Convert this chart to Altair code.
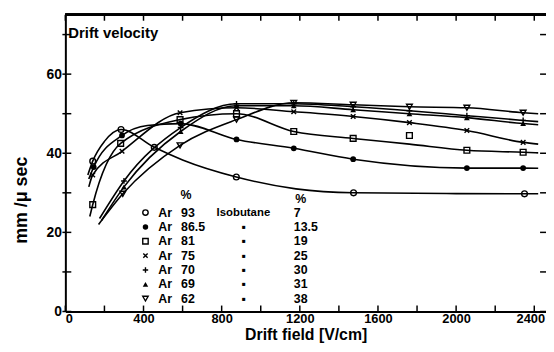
import altair as alt
import pandas as pd

# ---------------- data ----------------
series = ["93", "86.5", "81", "75", "70", "69", "62"]
isobutane = ["7", "13.5", "19", "25", "30", "31", "38"]

# measured points (markers)
m93_x = [140, 285, 455, 875, 1475, 2350]
m93_y = [38, 46, 41.5, 34, 30, 29.75]
m86_x = [145, 290, 590, 876, 1169, 1473, 2055, 2343]
m86_y = [36.5, 44.5, 47.5, 43.5, 41.25, 38.5, 36.25, 36.25]
m81_x = [140, 283, 587, 876, 1169, 1473, 1761, 2055, 2343]
m81_y = [27, 42.5, 48.5, 50, 45.5, 43.75, 44.5, 40.75, 40.25]
m75_x = [140, 290, 587, 876, 1169, 1473, 1761, 2055, 2343]
m75_y = [34.5, 40.5, 50.25, 51.5, 50.5, 49.3, 47.75, 45.75, 42.75]
m70_x = [300, 590, 876, 1169, 1473, 1761, 2055, 2343]
m70_y = [33, 46.5, 52.5, 52.5, 51.75, 50.75, 49.5, 48.3]
m69_x = [300, 590, 876, 1169, 1473, 1761, 2055, 2343]
m69_y = [31.5, 45.5, 52, 52, 51, 50, 49, 47.5]
m62_x = [294, 587, 876, 1169, 1473, 1761, 2055, 2343]
m62_y = [29.75, 42, 48.5, 52.75, 52.25, 51.75, 51.5, 50.25]

# hand-drawn fitted curves
c93_x = [115, 140, 200, 285, 455, 600, 875, 1180, 1475, 2000, 2350, 2420]
c93_y = [34.5, 38, 43, 46, 41.5, 38.3, 34, 31, 30, 29.8, 29.75, 29.75]
c86_x = [120, 145, 290, 420, 590, 876, 1169, 1473, 2055, 2343, 2420]
c86_y = [33.5, 36.5, 44.5, 47, 47.5, 43.5, 41.25, 38.5, 36.25, 36.25, 36.2]
c81_x = [125, 140, 283, 587, 876, 1169, 1473, 1761, 2055, 2343, 2420]
c81_y = [24, 27, 42.5, 48.5, 50, 45.5, 43.75, 42.3, 40.75, 40.25, 40.1]
c75_x = [120, 140, 290, 587, 876, 1169, 1473, 1761, 2055, 2343, 2420]
c75_y = [31.5, 34.5, 40.5, 50.25, 51.5, 50.5, 49.3, 47.75, 45.75, 42.75, 42.3]
c70_x = [175, 300, 590, 876, 1169, 1473, 1761, 2055, 2343, 2420]
c70_y = [23.5, 33, 46.5, 52.5, 52.5, 51.75, 50.75, 49.5, 48.3, 48]
c69_x = [185, 300, 590, 876, 1169, 1473, 1761, 2055, 2343, 2420]
c69_y = [23, 31.5, 45.5, 52, 52, 51, 50, 49, 47.5, 47.2]
c62_x = [170, 294, 587, 876, 1169, 1473, 1761, 2055, 2343, 2420]
c62_y = [22, 29.75, 42, 48.5, 52.75, 52.25, 51.75, 51.5, 50.25, 50]

x_ticks = list(range(0, 2401, 200))
x_labels = list(range(0, 2401, 400))
y_ticks = list(range(0, 71, 10))
y_labels = [0, 20, 40, 60]

# ---------------- styles ----------------
X_PATH = "M-0.8,-0.8L0.8,0.8M-0.8,0.8L0.8,-0.8"
PLUS_PATH = "M-1,0L1,0M0,-1L0,1"
shape_of = {"93": "circle", "86.5": "circle", "81": "square", "75": X_PATH,
            "70": PLUS_PATH, "69": "triangle-up", "62": "triangle-down"}
filled_of = {"93": False, "86.5": True, "81": False, "75": False,
             "70": False, "69": True, "62": False}

W, H = 486, 300
FONT = "Liberation Sans"

marks = {"93": (m93_x, m93_y), "86.5": (m86_x, m86_y), "81": (m81_x, m81_y),
         "75": (m75_x, m75_y), "70": (m70_x, m70_y), "69": (m69_x, m69_y),
         "62": (m62_x, m62_y)}
curves = {"93": (c93_x, c93_y), "86.5": (c86_x, c86_y), "81": (c81_x, c81_y),
          "75": (c75_x, c75_y), "70": (c70_x, c70_y), "69": (c69_x, c69_y),
          "62": (c62_x, c62_y)}

mk = pd.DataFrame([
    {"series": s, "x": x, "y": y, "shape": shape_of[s], "filled": filled_of[s]}
    for s, (xs, ys) in marks.items() for x, y in zip(xs, ys)])
cv = pd.DataFrame([
    {"series": s, "x": x, "y": y, "o": i}
    for s, (xs, ys) in curves.items() for i, (x, y) in enumerate(zip(xs, ys))])
leg = pd.DataFrame([
    {"series": s, "iso": iso, "row": i, "shape": shape_of[s], "filled": filled_of[s]}
    for i, (s, iso) in enumerate(zip(series, isobutane))])

xs = alt.Scale(domain=[0, 2460], nice=False, zero=False)
ys = alt.Scale(domain=[0, 75], nice=False)

lines = alt.Chart(cv).mark_line(color="black", strokeWidth=1.6, interpolate="monotone").encode(
    x=alt.X("x:Q", scale=xs,
            axis=alt.Axis(values=x_labels, format="d", ticks=False, grid=False,
                          domainColor="black", domainWidth=2, labelFont=FONT,
                          labelFontSize=13, labelFontWeight="bold", labelColor="black",
                          labelPadding=1, title="Drift field [V/cm]", titleFont=FONT,
                          titleFontSize=16, titleFontWeight="bold", titleColor="black",
                          titleY=31, titleBaseline="bottom", labelFlush=True,
                          labelOffset=alt.ExprRef(expr="datum.value == 2400 ? -4 : 0"))),
    y=alt.Y("y:Q", scale=ys,
            axis=alt.Axis(values=y_labels, ticks=False, grid=False, domainColor="black",
                          domainWidth=2, labelFont=FONT, labelFontSize=14,
                          labelFontWeight="bold", labelColor="black", labelPadding=4,
                          title="mm /\u03bc sec", titleFont=FONT, titleFontSize=18,
                          titleFontWeight="bold", titleColor="black", titleX=-35,
                          titleY=187, labelFlush=False)),
    detail="series:N",
    order="o:Q",
)

open_pts = alt.Chart(mk).transform_filter("!datum.filled").mark_point(
    filled=False, color="black", strokeWidth=1.4, size=34, opacity=1).encode(
    x=alt.X("x:Q", scale=xs), y=alt.Y("y:Q", scale=ys),
    shape=alt.Shape("shape:N", scale=None))
fill_pts = alt.Chart(mk).transform_filter("datum.filled").mark_point(
    filled=True, color="black", size=34, opacity=1).encode(
    x=alt.X("x:Q", scale=xs), y=alt.Y("y:Q", scale=ys),
    shape=alt.Shape("shape:N", scale=None))

# ticks (inward), drawn from tick-value lists
xt = pd.DataFrame({"t": x_ticks})
yt = pd.DataFrame({"t": y_ticks})
bottom_t = alt.Chart(xt).mark_rule(color="black", strokeWidth=1.5).encode(
    x=alt.X("t:Q", scale=xs), y=alt.value(H), y2=alt.value(H - 6))
top_t = alt.Chart(xt).mark_rule(color="black", strokeWidth=1.5).encode(
    x=alt.X("t:Q", scale=xs), y=alt.value(0), y2=alt.value(6))
left_t = alt.Chart(yt).mark_rule(color="black", strokeWidth=1.5).encode(
    y=alt.Y("t:Q", scale=ys), x=alt.value(-3), x2=alt.value(6))
right_t = alt.Chart(yt).mark_rule(color="black", strokeWidth=1.5).encode(
    y=alt.Y("t:Q", scale=ys), x=alt.value(W), x2=alt.value(W - 6))
top_border = alt.Chart(xt).mark_rule(color="black", strokeWidth=2).encode(
    x=alt.value(0), x2=alt.value(W), y=alt.value(0))

title_txt = alt.Chart(xt).transform_filter("datum.t == 0").mark_text(
    text="Drift velocity", font=FONT, fontSize=15, fontWeight="bold", color="black",
    align="left", baseline="middle").encode(x=alt.value(3), y=alt.value(18))

# legend block
lg = alt.Chart(leg).transform_calculate(ly="200 + 14.5 * datum.row")
lg_open = lg.transform_filter("!datum.filled").mark_point(
    filled=False, color="black", strokeWidth=1.4, size=30, opacity=1).encode(
    x=alt.value(81), y=alt.Y("ly:Q", scale=None), shape=alt.Shape("shape:N", scale=None))
lg_fill = lg.transform_filter("datum.filled").mark_point(
    filled=True, color="black", size=30, opacity=1).encode(
    x=alt.value(81), y=alt.Y("ly:Q", scale=None), shape=alt.Shape("shape:N", scale=None))
tstyle = dict(font=FONT, fontSize=12.5, fontWeight="bold", color="black", baseline="middle")
lg_ar = lg.mark_text(text="Ar", align="center", **tstyle).encode(
    x=alt.value(101), y=alt.Y("ly:Q", scale=None))
lg_pct = lg.mark_text(align="left", **tstyle).encode(
    x=alt.value(117), y=alt.Y("ly:Q", scale=None), text="series:N")
lg_dot = lg.transform_filter("datum.row > 0").mark_text(text="\u25aa", align="center", **tstyle).encode(
    x=alt.value(180), y=alt.Y("ly:Q", scale=None))
lg_iso = lg.mark_text(align="left", **tstyle).encode(
    x=alt.value(231), y=alt.Y("ly:Q", scale=None), text="iso:N")
hdr = lg.transform_filter("datum.row == 0")
h1 = hdr.mark_text(text="%", align="center", **tstyle).encode(x=alt.value(122), y=alt.value(182))
h2 = hdr.mark_text(text="Isobutane", align="center", font=FONT, fontSize=11.5,
                   fontWeight="bold", color="black", baseline="middle").encode(
    x=alt.value(180), y=alt.value(200))
h3 = hdr.mark_text(text="%", align="center", **tstyle).encode(x=alt.value(238), y=alt.value(186))

chart = alt.layer(
    lines, open_pts, fill_pts, bottom_t, top_t, left_t, right_t, top_border, title_txt,
    lg_open, lg_fill, lg_ar, lg_pct, lg_dot, lg_iso, h1, h2, h3,
).properties(
    width=W, height=H,
    padding={"left": 58, "top": 5, "right": 0, "bottom": 31},
    autosize=alt.AutoSizeParams(type="none"),
    background="white",
).configure_view(stroke=None)

chart.save("out.html", embed_options={"renderer": "svg", "actions": False})
